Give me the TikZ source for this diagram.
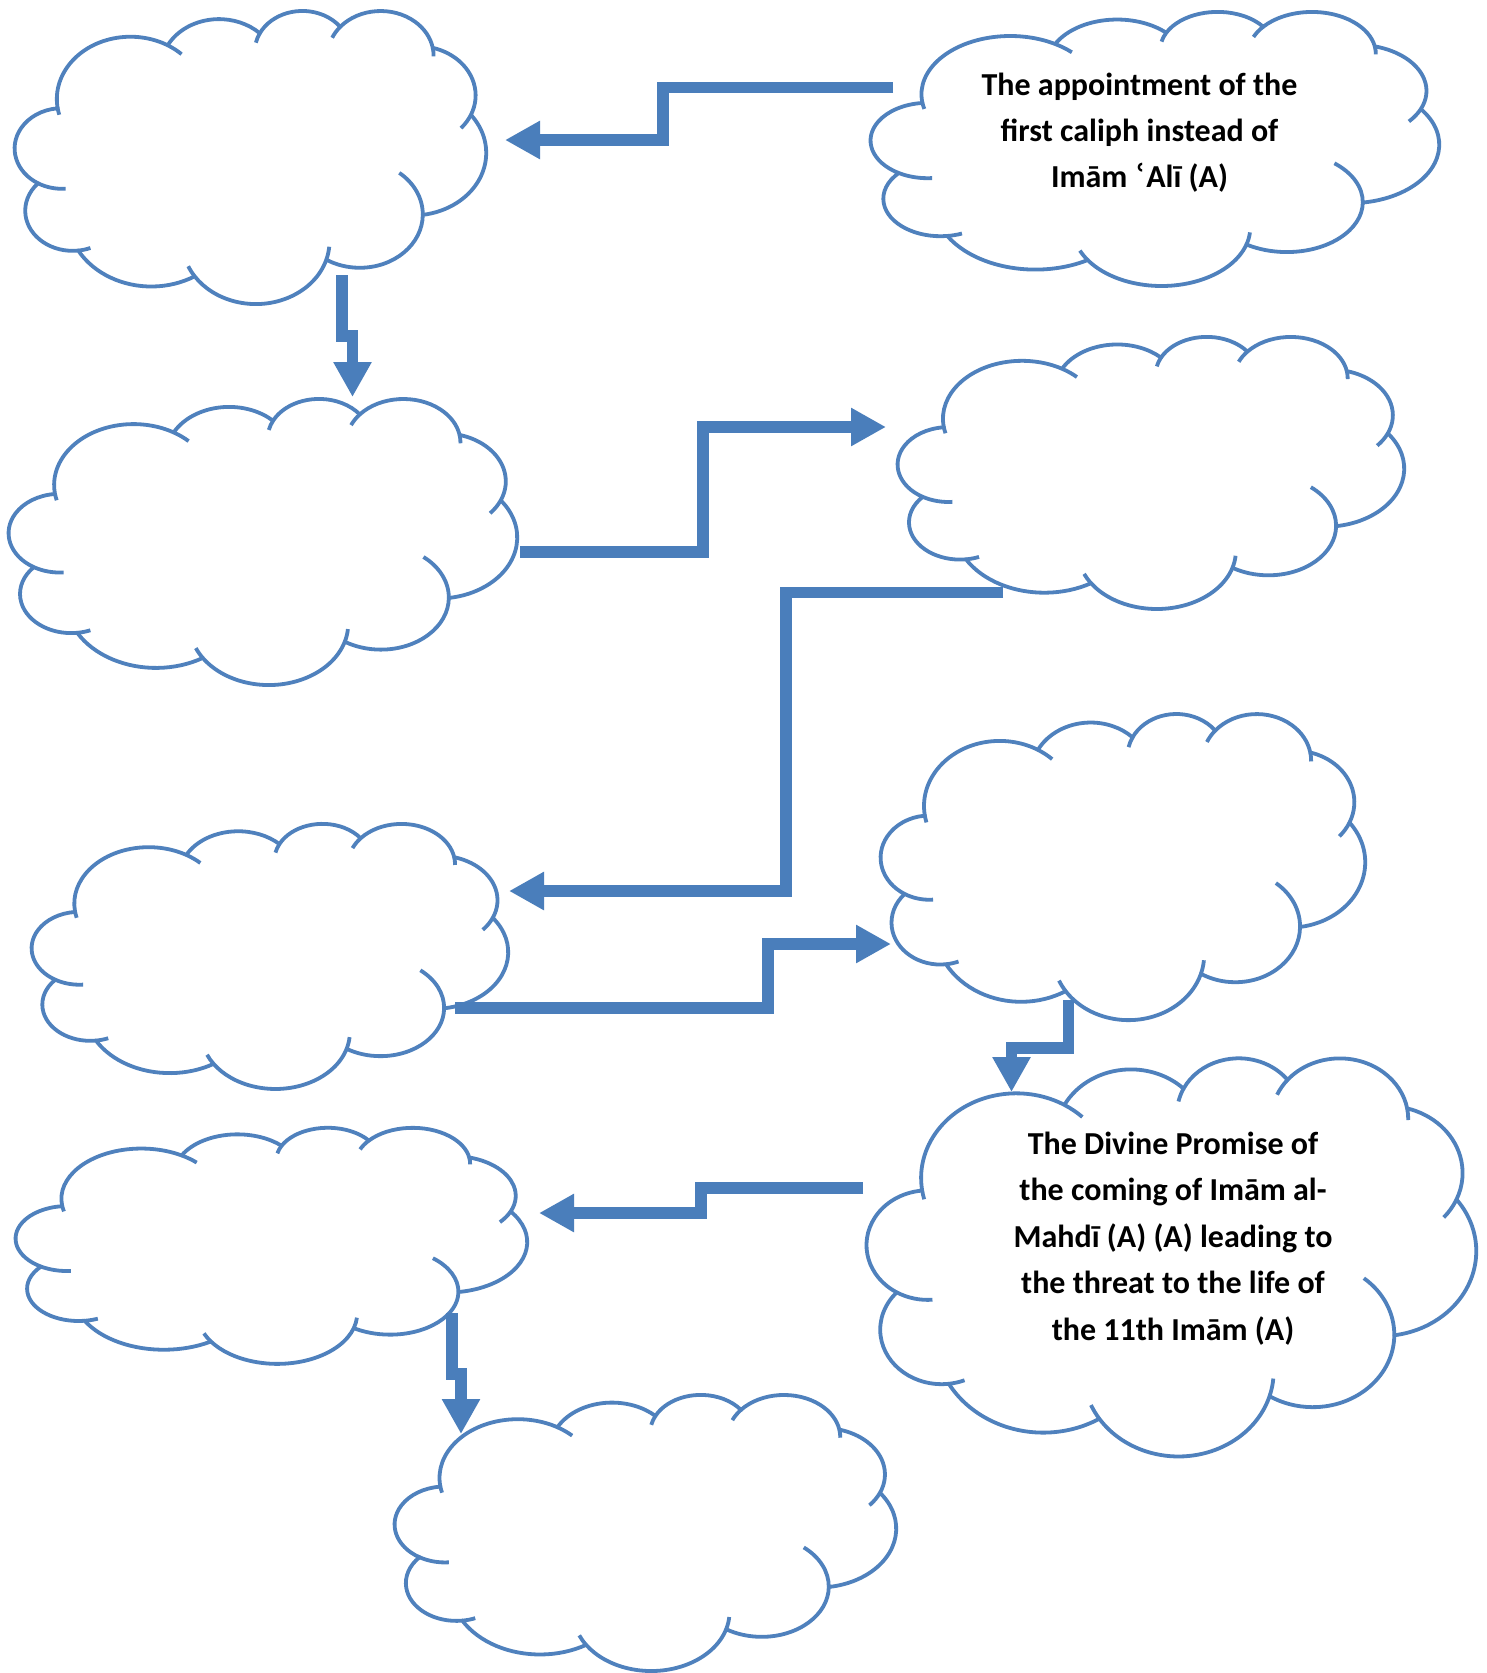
\documentclass[tikz,border=0pt]{standalone}
\usepackage{fontspec}
\setmainfont{Carlito}
\newfontfamily\djv{DejaVu Sans}
\usetikzlibrary{arrows.meta}
\definecolor{cloudblue}{HTML}{4F81BD}
\definecolor{connblue}{HTML}{4A7EBB}

% arc of an ellipse, DrawingML style (visual angles, y down) -> TikZ (y up)
\newcommand\mkarc[5]{%
  \pgfmathsetmacro\tA{atan2((#2)*sin(#4),(#3)*cos(#4))}%
  \pgfmathsetmacro\tB{atan2((#2)*sin((#4)+(#5)),(#3)*cos((#4)+(#5)))}%
  \pgfmathsetmacro\tD{(#5)>0 ? mod(\tB-\tA+720,360) : -mod(\tA-\tB+720,360)}%
  \pgfmathsetmacro\tS{-\tA}%
  \pgfmathsetmacro\tN{-\tD}%
  \xdef#1{arc[start angle=\tS, delta angle=\tN, x radius=#2, y radius=#3]}%
}
% outline arcs
\mkarc\cA{6.753}{9.190}{-190.4875}{123.7805}
\mkarc\cB{5.333}{7.267}{-144.1024}{89.9452}
\mkarc\cC{4.365}{5.945}{-145.8079}{99.7230}
\mkarc\cD{4.857}{6.595}{-130.9861}{117.2417}
\mkarc\cE{5.333}{7.273}{-78.7089}{109.0269}
\mkarc\cF{6.775}{9.220}{-46.2673}{130.2690}
\mkarc\cG{5.785}{7.867}{0.6250}{114.0333}
\mkarc\cH{6.752}{9.215}{22.4516}{115.1726}
\mkarc\cI{7.720}{10.543}{66.2426}{75.7110}
\mkarc\cJ{4.360}{5.918}{-274.9421}{146.7356}
\mkarc\cK{4.345}{5.945}{-246.8285}{152.5189}
% inner arcs
\mkarc\iA{6.753}{9.190}{-190.4875}{-9}
\mkarc\iB{6.753}{9.190}{-66.7070}{12}
\mkarc\iC{4.365}{5.945}{-145.8079}{-17.7}
\mkarc\iD{4.857}{6.595}{-130.9861}{-18.2}
\mkarc\iE{4.857}{6.595}{-13.7444}{14.85}
\mkarc\iF{5.333}{7.273}{30.3180}{20}
\mkarc\iG{5.785}{7.867}{0.6250}{-60}
\mkarc\iH{6.752}{9.215}{22.4516}{-16}
\mkarc\iI{6.752}{9.215}{137.6242}{12}
\mkarc\iJ{4.360}{5.918}{-274.9421}{-11.5}
\mkarc\iK{4.345}{5.945}{-246.8285}{-26.4}

\tikzset{
  cloudline/.style={draw=cloudblue, line width=3.8pt, line join=round},
  conn/.style={draw=connblue, line width=11.7pt, -{Triangle[length=35pt,width=36pt]}},
  lbl/.style={anchor=base, inner sep=0pt, font=\fontsize{32pt}{38pt}\selectfont\bfseries}
}

\newcommand\drawcloud[5]{%
  \pgfmathsetmacro\cxu{#4/43.2}%
  \pgfmathsetmacro\cyu{#5/43.2}%
  \begin{scope}[shift={(#2,#3+#5)}, x=\cxu pt, y=\cyu pt]
    \coordinate (#1) at (21.6,21.6);
    \draw[cloudline] (3.9,28.83) \cA coordinate (q1) \cB coordinate (q2)
      \cC coordinate (q3) \cD coordinate (q4) \cE coordinate (q5)
      \cF coordinate (q6) \cG coordinate (q7) \cH coordinate (q8)
      \cI coordinate (q9) \cJ coordinate (q10) \cK -- cycle;
    \draw[cloudline] (3.9,28.83) \iA (q1) \iB (q2) \iC (q3) \iD (q4) \iE
      (q5) \iF (q6) \iG (q7) \iH (q8) \iI (q9) \iJ (q10) \iK;
  \end{scope}}

\begin{document}
\begin{tikzpicture}[x=1pt, y=-1pt]
\useasboundingbox (0,0) rectangle (1487,1673);
\fill[white] (0,0) rectangle (1487,1673);

% clouds: name, left, top, width, height
\drawcloud{k1}{15}{10}{471}{293}
\drawcloud{k2}{871}{11}{568}{274}
\drawcloud{k3}{9}{398}{508}{286}
\drawcloud{k4}{898}{336}{506}{272}
\drawcloud{k5}{32}{823}{476}{265}
\drawcloud{k6}{881}{713}{484}{306}
\drawcloud{k7}{867}{1057}{609}{398}
\drawcloud{k8}{16}{1127}{511}{236}
\drawcloud{k9}{395}{1394}{501}{276}

% texts
\node[lbl] (t1a) at (1139.5,95) {The appointment of the};
\node[lbl] (t1b) at (1139.5,141) {first caliph instead of};
\node[lbl] (t1c) at (1139.5,187) {Imām {\djv ʿ}Alī (A)};

\node[lbl] (t2a) at (1173,1154) {The Divine Promise of};
\node[lbl] (t2b) at (1173,1200.5) {the coming of Imām al-};
\node[lbl] (t2c) at (1173,1247) {Mahdī (A) (A) leading to};
\node[lbl] (t2d) at (1173,1293.5) {the threat to the life of};
\node[lbl] (t2e) at (1173,1340) {the 11th Imām (A)};

% connector end points
\coordinate (a1) at (893,87.5);   \coordinate (a2) at (505,140);
\coordinate (b1) at (342,275);    \coordinate (b2) at (352.5,397);
\coordinate (c1) at (520,552);    \coordinate (c2) at (886,427);
\coordinate (d1) at (1003,592.5); \coordinate (d2) at (509,891);
\coordinate (e1) at (455,1008);   \coordinate (e2) at (891,944);
\coordinate (f1) at (1068.5,1000);\coordinate (f2) at (1011.5,1092);
\coordinate (g1) at (863,1188);   \coordinate (g2) at (539,1213);
\coordinate (h1) at (452,1313);   \coordinate (h2) at (461,1434);

\draw[conn] (a1) -- ++(-230,0) |- (a2);
\draw[conn] (b1) -- ++(0,61) -| (b2);
\draw[conn] (c1) -- ++(183,0) |- (c2);
\draw[conn] (d1) -- ++(-217,0) |- (d2);
\draw[conn] (e1) -- ++(313,0) |- (e2);
\draw[conn] (f1) -- ++(0,48) -| (f2);
\draw[conn] (g1) -- ++(-162,0) |- (g2);
\draw[conn] (h1) -- ++(0,61) -| (h2);
\end{tikzpicture}
\end{document}
